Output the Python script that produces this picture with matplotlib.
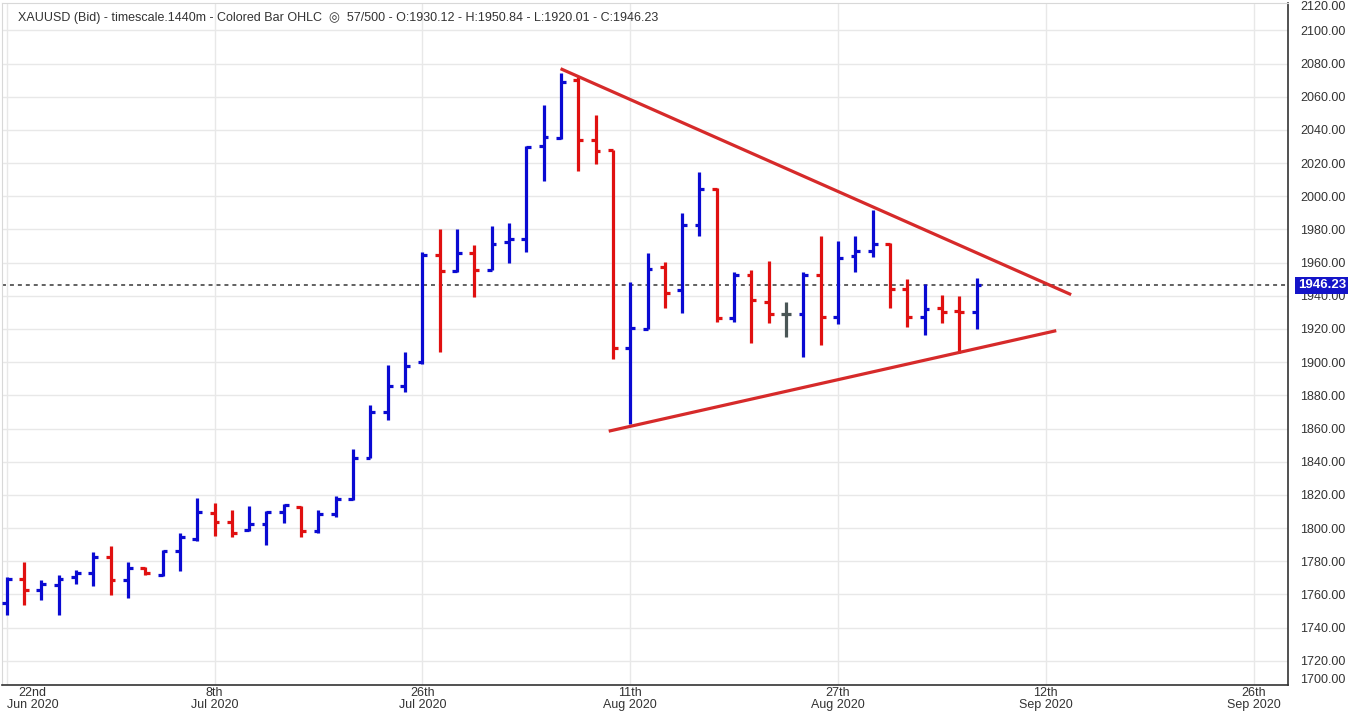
import matplotlib
matplotlib.use("Agg")
import matplotlib.pyplot as plt
import matplotlib.transforms as mtransforms

# OHLC values (daily bars, left to right)
opens = [1754.8, 1769.0, 1762.4, 1765.8, 1770.4, 1772.8, 1782.8, 1768.4, 1776.0, 1772.0,
         1786.0, 1793.4, 1809.0, 1803.4, 1798.8, 1802.4, 1809.4, 1812.8, 1798.4, 1808.4,
         1817.4, 1842.4, 1870.0, 1885.4, 1899.9, 1964.5, 1955.1, 1965.9, 1955.5, 1972.5,
         1974.4, 2030.2, 2035.0, 2069.9, 2033.7, 2027.6, 1908.6, 1920.2, 1957.5, 1943.8,
         1982.9, 2004.5, 1926.4, 1952.5, 1936.5, 1928.8, 1928.8, 1952.8, 1927.4, 1964.1,
         1966.9, 1971.5, 1944.1, 1927.4, 1932.4, 1930.9, 1930.12]
highs = [1770.4, 1779.4, 1768.8, 1772.0, 1774.8, 1785.8, 1789.4, 1779.4, 1776.8, 1787.0,
         1797.0, 1818.0, 1815.4, 1810.8, 1813.4, 1810.4, 1814.8, 1813.4, 1810.8, 1819.4,
         1847.4, 1873.9, 1898.5, 1906.1, 1966.4, 1980.0, 1980.0, 1970.4, 1981.9, 1983.9,
         2030.2, 2055.0, 2074.5, 2071.9, 2049.0, 2027.6, 1948.5, 1965.9, 1960.5, 1990.0,
         2014.9, 2005.0, 1954.5, 1955.5, 1960.9, 1936.5, 1954.5, 1976.1, 1973.1, 1975.9,
         1991.5, 1972.0, 1950.1, 1947.4, 1940.5, 1939.9, 1950.84]
lows = [1747.4, 1753.4, 1756.4, 1747.8, 1766.4, 1764.8, 1759.8, 1758.0, 1772.0, 1771.0,
        1774.4, 1792.4, 1795.4, 1794.8, 1798.0, 1790.0, 1802.8, 1794.4, 1796.8, 1806.4,
        1816.8, 1842.4, 1864.9, 1882.0, 1898.9, 1906.4, 1954.4, 1939.0, 1955.5, 1959.9,
        1966.4, 2009.2, 2034.3, 2015.3, 2019.3, 1901.9, 1862.5, 1920.2, 1932.4, 1929.4,
        1975.9, 1924.2, 1924.2, 1911.5, 1923.8, 1914.9, 1902.9, 1910.1, 1922.8, 1954.5,
        1963.5, 1932.4, 1921.4, 1916.5, 1923.8, 1905.5, 1920.01]
closes = [1769.0, 1762.4, 1766.0, 1769.4, 1772.8, 1782.8, 1768.4, 1776.0, 1772.8, 1786.0,
          1794.4, 1809.4, 1803.4, 1796.8, 1802.4, 1809.4, 1814.0, 1798.4, 1808.4, 1817.4,
          1842.4, 1869.8, 1885.4, 1897.4, 1964.8, 1955.1, 1965.9, 1955.5, 1971.5, 1974.1,
          2029.6, 2035.6, 2068.9, 2033.7, 2027.1, 1908.6, 1920.6, 1956.4, 1941.5, 1982.9,
          2004.1, 1926.6, 1952.8, 1937.5, 1928.8, 1928.8, 1952.8, 1927.4, 1962.7, 1967.1,
          1971.5, 1944.1, 1927.4, 1931.8, 1930.0, 1930.12, 1946.23]
last_price = 1946.23

# triangle drawn on the chart: (bar index, price) end points
upper_line = [(31.98, 2076.9), (61.46, 1940.7)]
lower_line = [(34.76, 1858.4), (60.6, 1919.0)]

xtick_pos = [0, 12, 24, 36, 48, 60, 72]
xtick_labels = ["22nd\nJun 2020", "8th\nJul 2020", "26th\nJul 2020", "11th\nAug 2020",
                "27th\nAug 2020", "12th\nSep 2020", "26th\nSep 2020"]
ytick_vals = list(range(1720, 2101, 20))

fig = plt.figure(figsize=(13.6, 7.11), dpi=100)
ax = fig.add_axes([2 / 1360, 26 / 711, 1286 / 1360, 682 / 711])

up_col, dn_col, flat_col = "#0a0ad2", "#e01010", "#4a5656"
tick_len = 0.28
for i in range(len(opens)):
    if closes[i] > opens[i]:
        c = up_col
    elif closes[i] < opens[i]:
        c = dn_col
    else:
        c = flat_col
    ax.vlines(i, lows[i], highs[i], color=c, lw=2.3, zorder=3)
    ax.hlines(opens[i], i - tick_len, i, color=c, lw=2.3, zorder=3)
    ax.hlines(closes[i], i, i + tick_len, color=c, lw=2.3, zorder=3)

for ln in (upper_line, lower_line):
    ax.plot([p[0] for p in ln], [p[1] for p in ln], color="#d62a2a", lw=2.3,
            solid_capstyle="butt", zorder=4)

ax.axhline(last_price, color="#555555", lw=1.3, ls=(0, (2.2, 2.2)), zorder=2)

ax.set_xlim(-0.27, 73.98)
ax.set_ylim(1705.4, 2116.5)
ax.set_xticks(xtick_pos)
ax.set_xticklabels(xtick_labels, fontsize=9, color="#333333",
                   family="Liberation Sans", linespacing=1.0, multialignment="center")
ax.get_xticklabels()[0].set_ha("left")
ax.set_yticks(ytick_vals)
ax.set_yticklabels(["%.2f" % v for v in ytick_vals], fontsize=9, color="#333333",
                   family="Liberation Sans")
ax.yaxis.tick_right()
ax.tick_params(axis="y", length=0, pad=9)
ax.tick_params(axis="x", length=0, pad=1.5)
ax.grid(True, color="#e8e8e8", lw=1)
ax.set_axisbelow(True)

for s in ("left", "top"):
    ax.spines[s].set_color("#d8d8d8")
for s in ("right", "bottom"):
    ax.spines[s].set_color("#333333")
    ax.spines[s].set_linewidth(1.2)

# squeezed edge labels of the price scale
fig.text(1300 / 1360, 1 - 7 / 711, "2120.00", fontsize=9, color="#333333",
         family="Liberation Sans", va="center")
fig.text(1300 / 1360, 1 - 680 / 711, "1700.00", fontsize=9, color="#333333",
         family="Liberation Sans", va="center")

trans = mtransforms.blended_transform_factory(ax.transAxes, ax.transData)
ax.text(1.0075, last_price, "%.2f" % last_price, transform=trans, clip_on=False,
        ha="left", va="center", fontsize=9.5, color="white", fontweight="bold",
        family="Liberation Sans", zorder=6,
        bbox=dict(boxstyle="square,pad=0.18", fc="#1414c8", ec="none"))

fig.text(18 / 1360, 1 - 18 / 711,
         "XAUUSD (Bid) - timescale.1440m - Colored Bar OHLC  \u25ce  57/500 - O:1930.12 - "
         "H:1950.84 - L:1920.01 - C:1946.23",
         fontsize=9, color="#333333", family=["Liberation Sans", "DejaVu Sans"], va="center")

fig.savefig("out.png", dpi=100)
